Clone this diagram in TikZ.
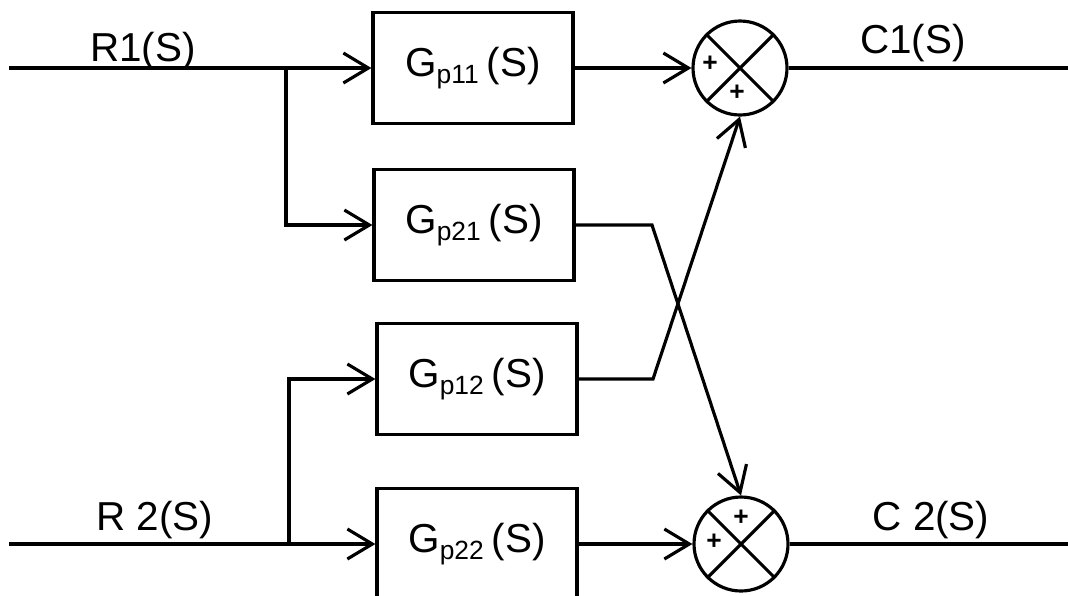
\documentclass[tikz,border=0pt]{standalone}
\usepackage{fontspec}
\setmainfont{Liberation Sans}
\usetikzlibrary{arrows.meta}
\def\gp#1{G{\fontsize{15}{15}\selectfont\raisebox{-0.5ex}{p#1}}\hspace{0.2em}(S)}
\tikzset{
	block/.style={draw, line width=1.8pt, minimum width=4cm, minimum height=2.22cm, font=\fontsize{23}{25}\selectfont},
	junction/.style={draw, circle, line width=1.8pt, minimum size=1.88cm, inner sep=0pt},
	sig/.style={line width=1.8pt},
	feed/.style={sig, -{Straight Barb[length=5mm,width=6mm]}},
	lbl/.style={anchor=base, inner sep=0pt, font=\fontsize{23}{26}\selectfont},
	sign/.style={inner sep=0pt, font=\bfseries\fontsize{15}{15}\selectfont}
}

\begin{document}
\begin{tikzpicture}[x=0.2mm, y=-0.2mm]
			%%%%% START %%%%%
			
			\useasboundingbox (0, 0) rectangle (1068, 595);
			\clip (0, 0) rectangle (1068, 595);
			
			\node[block] (g11) at (473, 68) {\gp{11}};
			\node[block] (g21) at (474, 225) {\gp{21}};
			\node[block] (g12) at (477, 379) {\gp{12}};
			\node[block] (g22) at (477, 544) {\gp{22}};
			
			\node[junction] (s1) at (740, 68) {};
			\draw[sig] (s1.north west) -- (s1.south east);
			\draw[sig] (s1.north east) -- (s1.south west);
			\node[sign] (s1a) at (710, 64) {+};
			\node[sign] (s1b) at (737, 93) {+};
			
			\node[junction] (s2) at (741, 544) {};
			\draw[sig] (s2.north west) -- (s2.south east);
			\draw[sig] (s2.north east) -- (s2.south west);
			\node[sign] (s2a) at (741, 518) {+};
			\node[sign] (s2b) at (714, 542) {+};
			
			\coordinate (r1) at (9, 68);
			\coordinate (b1) at (286, 68);
			\coordinate (r2) at (9, 544);
			\coordinate (b2) at (289, 544);
			\coordinate (k21) at (652, 225);
			\coordinate (k12) at (653, 379);
			\coordinate (c1) at (1068, 68);
			\coordinate (c2) at (1068, 544);
			
			\draw[feed] (r1) -- (g11.west);
			\draw[feed] (b1) |- (g21.west);
			\draw[feed] (r2) -- (g22.west);
			\draw[feed] (b2) |- (g12.west);
			
			\draw[feed] (g11.east) -- (s1.west);
			\draw[feed] (g22.east) -- (s2.west);
			\draw[feed] (g21.east) -- (k21) -- (s2.north);
			\draw[feed] (g12.east) -- (k12) -- (s1.south);
			
			\draw[sig] (s1.east) -- (c1);
			\draw[sig] (s2.east) -- (c2);
			
			\node[lbl] (lr1) at (143, 61) {R1(S)};
			\node[lbl] (lr2) at (155, 530) {R 2(S)};
			\node[lbl] (lc1) at (913, 53) {C1(S)};
			\node[lbl] (lc2) at (931, 530) {C 2(S)};
			
			%%%%% END %%%%%
\end{tikzpicture}
\end{document}
